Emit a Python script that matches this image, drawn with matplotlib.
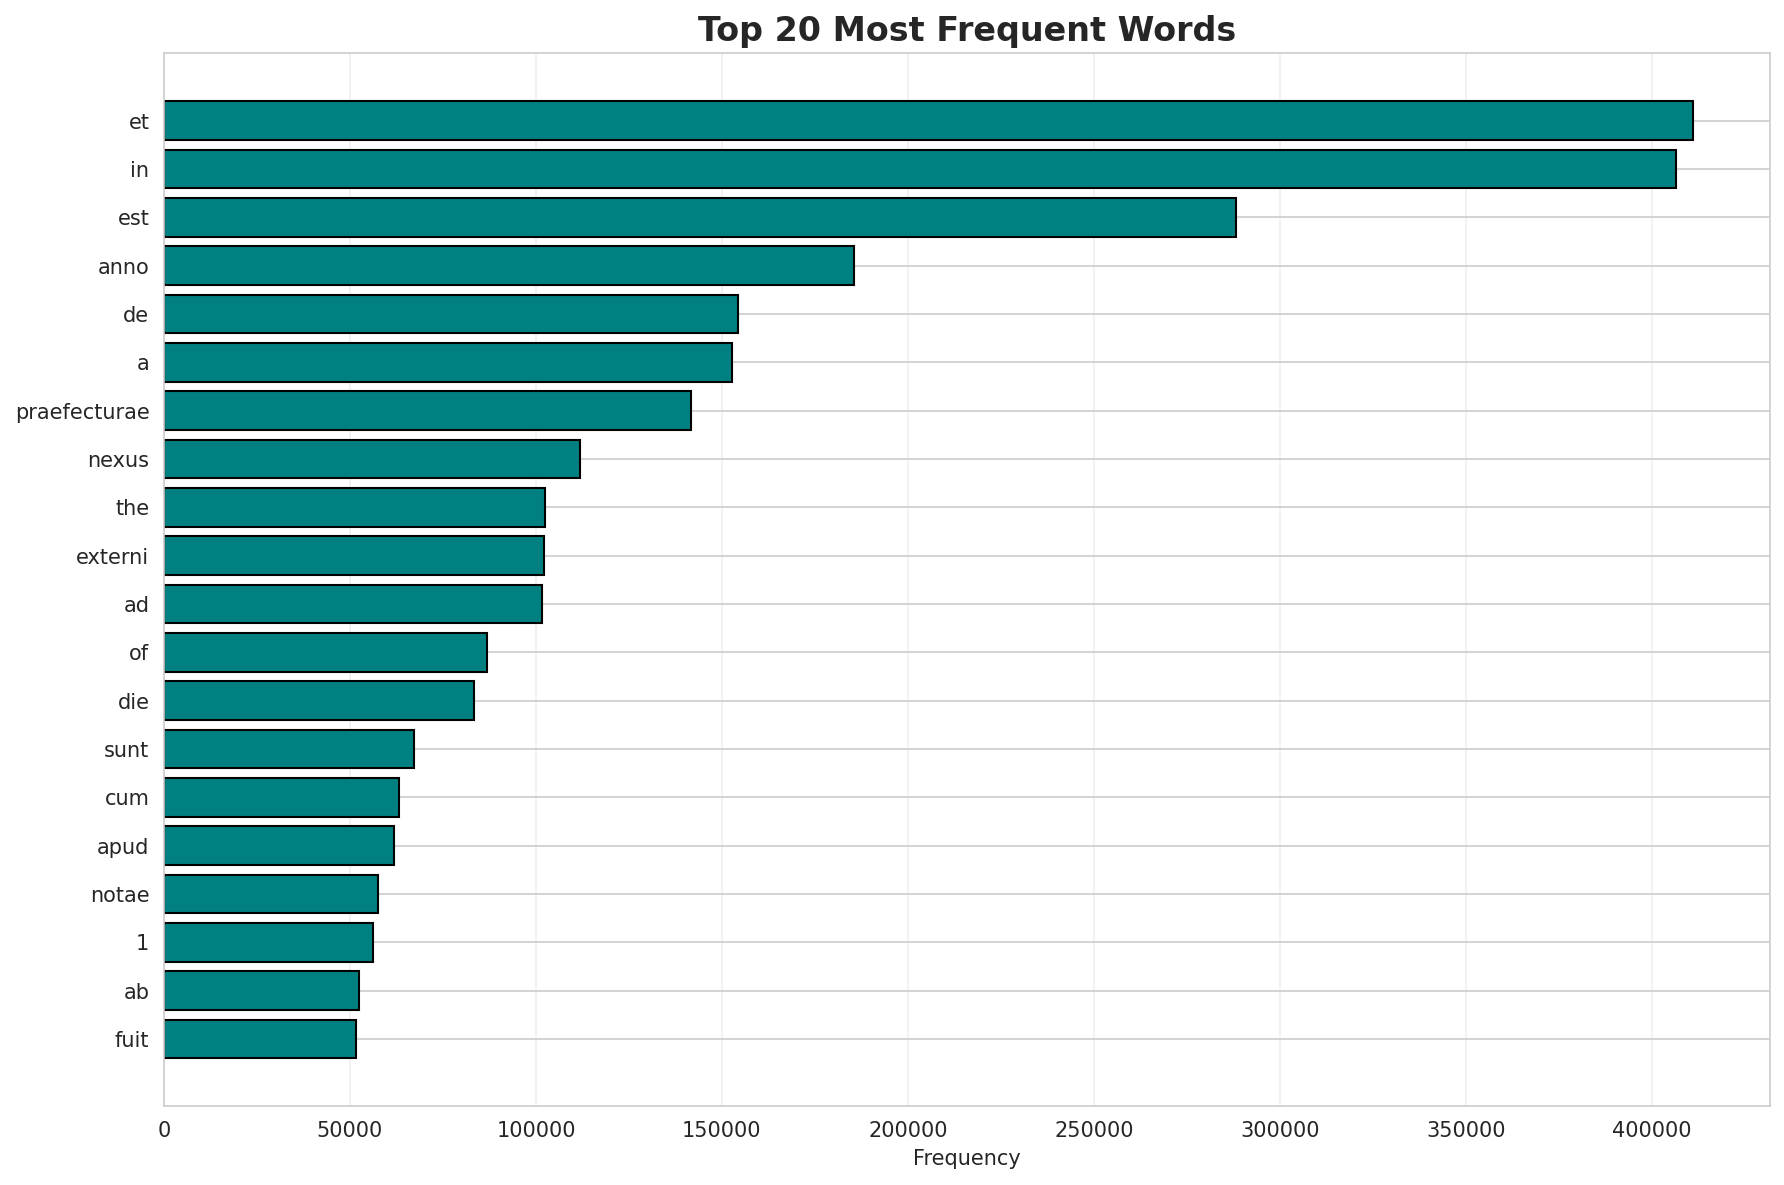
import matplotlib
matplotlib.use("Agg")
import matplotlib.pyplot as plt
import seaborn as sns

words = ["et", "in", "est", "anno", "de", "a", "praefecturae", "nexus", "the",
         "externi", "ad", "of", "die", "sunt", "cum", "apud", "notae", "1", "ab", "fuit"]
counts = [411100, 406500, 288250, 185570, 154380, 152770, 141750, 111980, 102460,
          102190, 101740, 86800, 83300, 67110, 63060, 61790, 57480, 56080, 52510, 51670]

sns.set_style("whitegrid")
plt.rcParams['font.family'] = ['DejaVu Sans']

fig = plt.figure(figsize=(1784 / 150, 1185 / 150), dpi=150)
ax = fig.add_axes([164 / 1784, 1 - 1106.3 / 1185, (1769.5 - 164) / 1784, (1106.3 - 53.3) / 1185])

ax.barh(words, counts, color="teal", edgecolor="black", linewidth=1)
ax.invert_yaxis()
ax.set_xlabel("Frequency")
ax.set_title("Top 20 Most Frequent Words", fontsize=16, fontweight="bold")
ax.grid(axis="x", alpha=0.3)

fig.savefig("out.png", dpi=150)
